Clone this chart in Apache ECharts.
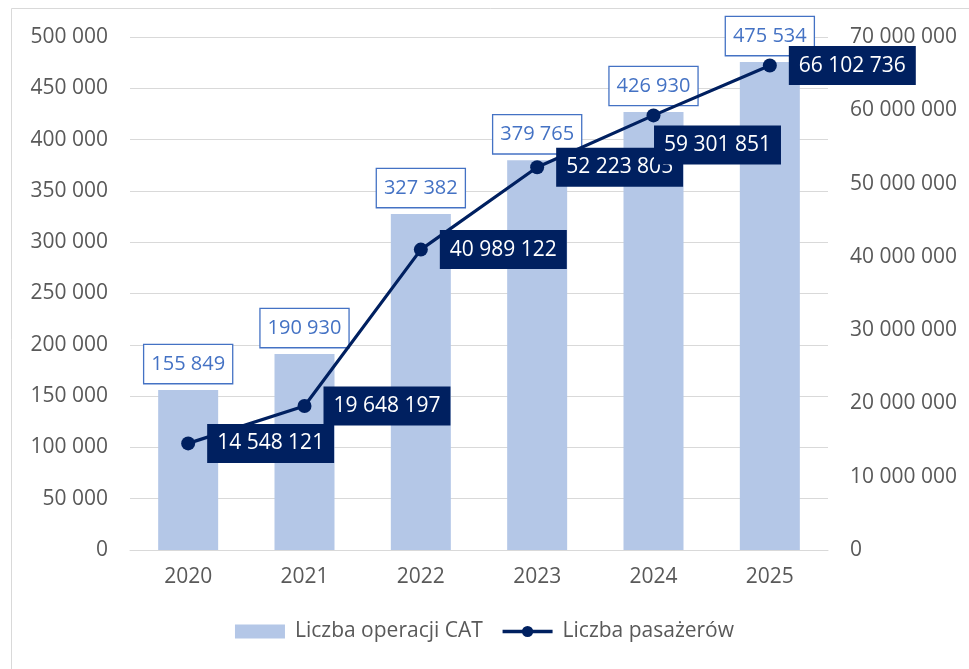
<!DOCTYPE html>
<html>
<head>
<meta charset="utf-8">
<script src="https://cdn.jsdelivr.net/npm/echarts@6/dist/echarts.min.js"></script>
<style>
  html, body { margin: 0; padding: 0; background: #fff; }
  #main { width: 969px; height: 669px; }
</style>
</head>
<body>
<div id="main"></div>
<script>
// data
var years = ['2020', '2021', '2022', '2023', '2024', '2025'];
var operations = [155849, 190930, 327382, 379765, 426930, 475534];
var passengers = [14548121, 19648197, 40989122, 52223805, 59301851, 66102736];

var font = '"Open Sans", "Noto Sans", sans-serif';
function fmt(v) {
    return String(v).replace(/\B(?=(\d{3})+(?!\d))/g, ' ');
}

var option = {
    backgroundColor: '#fff',
    textStyle: { fontFamily: font },
    animation: false,
    graphic: [
        { type: 'rect', shape: { x: 11.5, y: 8.5, width: 1000, height: 700 }, style: { fill: 'none', stroke: '#d9d9d9', lineWidth: 1 } }
    ],
    grid: { left: 130, right: 141, top: 37, bottom: 119 },
    legend: {
        bottom: 22,
        left: 'center',
        itemWidth: 50,
        itemHeight: 14,
        itemGap: 18,
        textStyle: { fontFamily: font, fontSize: 21, color: '#595959', padding: [0, 0, 0, 5] },
        data: [
            { name: 'Liczba operacji CAT', icon: 'rect', itemStyle: { color: '#b4c7e7' } },
            { name: 'Liczba pasażerów', lineStyle: { width: 3.5, color: '#002060' } }
        ]
    },
    xAxis: {
        type: 'category',
        data: years,
        axisLine: { lineStyle: { color: '#d9d9d9' } },
        axisTick: { show: false },
        axisLabel: { color: '#595959', fontSize: 21, fontFamily: font, margin: 17 }
    },
    yAxis: [
        {
            type: 'value', min: 0, max: 500000, interval: 50000,
            axisLine: { show: false }, axisTick: { show: false },
            splitLine: { lineStyle: { color: '#d9d9d9', width: 1 } },
            axisLabel: { color: '#595959', fontSize: 21, fontFamily: font, margin: 22, formatter: fmt }
        },
        {
            type: 'value', min: 0, max: 70000000, interval: 10000000,
            axisLine: { show: false }, axisTick: { show: false },
            splitLine: { show: false },
            axisLabel: { color: '#595959', fontSize: 21, fontFamily: font, margin: 22, formatter: fmt }
        }
    ],
    series: [
        {
            name: 'Liczba operacji CAT',
            type: 'bar',
            data: operations,
            barWidth: 60,
            itemStyle: { color: '#b4c7e7' },
            label: {
                show: true, position: 'top', distance: 7,
                color: '#4472c4', fontSize: 20, fontFamily: font, lineHeight: 24,
                backgroundColor: '#fff', borderColor: '#4472c4', borderWidth: 1.3,
                padding: [7, 7, 7, 7],
                formatter: function (p) { return fmt(p.value); }
            }
        },
        {
            name: 'Liczba pasażerów',
            type: 'line',
            yAxisIndex: 1,
            data: passengers.map(function (v, i) {
                var d = { value: v };
                if (i === 4) d.label = { position: 'bottom', distance: 3, offset: [64, 0] };
                return d;
            }),
            symbol: 'circle',
            symbolSize: 14,
            lineStyle: { color: '#002060', width: 3.2 },
            itemStyle: { color: '#002060' },
            z: 5,
            label: {
                show: true, position: 'right', distance: 12,
                color: '#fff', fontSize: 21, fontFamily: font, lineHeight: 25,
                backgroundColor: '#002060',
                padding: [7, 10, 7, 10],
                formatter: function (p) { return fmt(p.value); }
            }
        }
    ]
};

var myChart = echarts.init(document.getElementById('main'));
myChart.setOption(option);
</script>
</body>
</html>
